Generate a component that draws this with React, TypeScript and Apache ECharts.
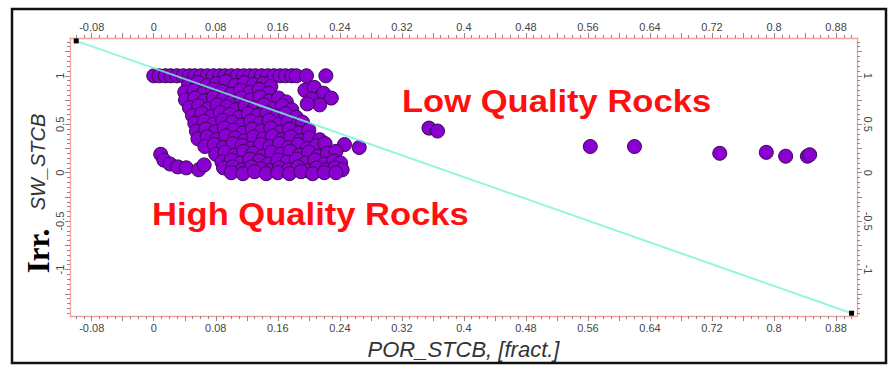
import React, { useEffect, useRef } from "react";
import * as echarts from "echarts";

// ---- Data ----
const xTickLabels = [-0.08, 0, 0.08, 0.16, 0.24, 0.32, 0.4, 0.48, 0.56, 0.64, 0.72, 0.8, 0.88];
const yTickLabels = [-1, -0.5, 0, 0.5, 1];

// SW capped at 1 (top band)
const topRow: number[][] = [
  [0, 1], [0.007, 1], [0.015, 1], [0.022, 1], [0.03, 1], [0.038, 1], [0.046, 1], [0.053, 1],
  [0.061, 1], [0.069, 1], [0.077, 1], [0.085, 1], [0.092, 1], [0.1, 1], [0.108, 1], [0.116, 1],
  [0.124, 1], [0.131, 1], [0.139, 1], [0.147, 1], [0.155, 1], [0.163, 1], [0.17, 1], [0.178, 1],
  [0.184, 1], [0.197, 1], [0.222, 1],
];

// main dense cloud
const mainCloud: number[][] = [
  [0.045, 0.91], [0.057, 0.93], [0.069, 0.9], [0.081, 0.92], [0.093, 0.94], [0.105, 0.9], [0.117, 0.93], [0.129, 0.91], [0.141, 0.92], [0.151, 0.89],
  [0.04, 0.83], [0.052, 0.85], [0.064, 0.82], [0.076, 0.86], [0.088, 0.84], [0.1, 0.81], [0.112, 0.85], [0.124, 0.83], [0.136, 0.86], [0.148, 0.82],
  [0.195, 0.85], [0.207, 0.88], [0.219, 0.82], [0.229, 0.77], [0.204, 0.76], [0.214, 0.7], [0.198, 0.71],
  [0.041, 0.75], [0.053, 0.77], [0.065, 0.74], [0.077, 0.78], [0.089, 0.76], [0.101, 0.73], [0.113, 0.77], [0.125, 0.75], [0.137, 0.78], [0.149, 0.74], [0.161, 0.77], [0.171, 0.73],
  [0.046, 0.67], [0.058, 0.69], [0.07, 0.66], [0.082, 0.7], [0.094, 0.68], [0.106, 0.65], [0.118, 0.69], [0.13, 0.67], [0.142, 0.7], [0.154, 0.66], [0.166, 0.69], [0.178, 0.65],
  [0.05, 0.59], [0.062, 0.61], [0.074, 0.58], [0.086, 0.62], [0.098, 0.6], [0.11, 0.57], [0.122, 0.61], [0.134, 0.59], [0.146, 0.62], [0.158, 0.58], [0.17, 0.61], [0.184, 0.57],
  [0.053, 0.51], [0.065, 0.53], [0.077, 0.5], [0.089, 0.54], [0.101, 0.52], [0.113, 0.49], [0.125, 0.53], [0.137, 0.51], [0.149, 0.54], [0.161, 0.5], [0.173, 0.53], [0.185, 0.49], [0.192, 0.52],
  [0.055, 0.43], [0.067, 0.45], [0.079, 0.42], [0.091, 0.46], [0.103, 0.44], [0.115, 0.41], [0.127, 0.45], [0.139, 0.43], [0.151, 0.46], [0.163, 0.42], [0.175, 0.45], [0.187, 0.41], [0.2, 0.44],
  [0.057, 0.35], [0.069, 0.37], [0.081, 0.34], [0.093, 0.38], [0.105, 0.36], [0.117, 0.33], [0.129, 0.37], [0.141, 0.35], [0.153, 0.38], [0.165, 0.34], [0.177, 0.37], [0.189, 0.33], [0.201, 0.36], [0.214, 0.34],
  [0.066, 0.27], [0.078, 0.29], [0.09, 0.26], [0.102, 0.3], [0.114, 0.28], [0.126, 0.25], [0.138, 0.29], [0.15, 0.27], [0.162, 0.3], [0.174, 0.26], [0.186, 0.29], [0.198, 0.25], [0.21, 0.28], [0.221, 0.3], [0.246, 0.29], [0.265, 0.26],
  [0.08, 0.19], [0.092, 0.21], [0.104, 0.18], [0.116, 0.22], [0.128, 0.2], [0.14, 0.17], [0.152, 0.21], [0.164, 0.19], [0.176, 0.22], [0.188, 0.18], [0.2, 0.21], [0.212, 0.17], [0.224, 0.2], [0.235, 0.22],
  [0.088, 0.11], [0.1, 0.13], [0.112, 0.1], [0.124, 0.14], [0.136, 0.12], [0.148, 0.09], [0.16, 0.13], [0.172, 0.11], [0.184, 0.14], [0.196, 0.1], [0.208, 0.13], [0.22, 0.09], [0.232, 0.12], [0.241, 0.1],
  [0.09, 0.05], [0.102, 0.06], [0.114, 0.03], [0.126, 0.06], [0.138, 0.04], [0.15, 0.02], [0.162, 0.05], [0.174, 0.03], [0.186, 0.06], [0.198, 0.02], [0.21, 0.05], [0.222, 0.03], [0.234, 0.05], [0.243, 0.03],
  [0.1, 0.0], [0.115, -0.01], [0.13, 0.01], [0.145, -0.01], [0.16, 0.0], [0.175, -0.01], [0.19, 0.01], [0.205, -0.01], [0.22, 0.0], [0.235, 0.0],
];

// small group at low porosity / low SW
const lowLeft: number[][] = [
  [0.009, 0.19], [0.013, 0.13], [0.021, 0.09], [0.031, 0.06], [0.042, 0.05], [0.058, 0.03], [0.065, 0.08],
];

// isolated high porosity points
const outliers: number[][] = [
  [0.355, 0.46], [0.366, 0.43], [0.563, 0.27], [0.62, 0.27], [0.73, 0.2], [0.79, 0.21], [0.815, 0.17], [0.843, 0.17], [0.846, 0.185],
];

// cut-off line endpoints
const cutLine: number[][] = [
  [-0.1, 1.36],
  [0.9, -1.45],
];

const X_MIN = -0.108;
const X_MAX = 0.907;
const Y_MIN = -1.48;
const Y_MAX = 1.39;

function steps(from: number, to: number, step: number): number[] {
  const out: number[] = [];
  const n = Math.round((to - from) / step);
  for (let i = 0; i <= n; i++) out.push(Math.round((from + i * step) * 1000) / 1000);
  return out;
}

const fmt = (v: number) => String(Math.round(v * 100) / 100);

export default function App() {
  const ref = useRef<HTMLDivElement>(null);

  useEffect(() => {
    if (!ref.current) return;
    const chart = echarts.init(ref.current, null, { renderer: "svg" });

    const lineColor = "#f4a3a3";
    const tickColor = "#8a8a8a";
    const labelStyle = { color: "#444", fontSize: 11, fontFamily: "Liberation Sans" };

    const xMajor = steps(-0.08, 0.88, 0.04);
    const xMinor = steps(-0.1, 0.9, 0.01);
    const yMajor = steps(-1.25, 1.25, 0.25);
    const yMinor = steps(-1.45, 1.35, 0.05);

    const xAx = (position: string, main: boolean, extra: any = {}) => ({
      type: "value",
      position,
      min: X_MIN,
      max: X_MAX,
      splitLine: { show: false },
      axisLine: { show: main, onZero: false, lineStyle: { color: lineColor, width: 1.3 } },
      axisTick: {
        show: true,
        customValues: main ? xMajor : xMinor,
        length: main ? 5 : 3,
        lineStyle: { color: tickColor, width: 1 },
      },
      axisLabel: main
        ? { show: true, customValues: xTickLabels, formatter: fmt, margin: 6, ...labelStyle }
        : { show: false },
      ...extra,
    });

    const yAx = (position: string, main: boolean, rotate: number) => ({
      type: "value",
      position,
      min: Y_MIN,
      max: Y_MAX,
      splitLine: { show: false },
      axisLine: { show: main, onZero: false, lineStyle: { color: lineColor, width: 1.3 } },
      axisTick: {
        show: true,
        customValues: main ? yMajor : yMinor,
        length: main ? 5 : 3,
        lineStyle: { color: tickColor, width: 1 },
      },
      axisLabel: main
        ? { show: true, customValues: yTickLabels, formatter: fmt, rotate, margin: 5, ...labelStyle }
        : { show: false },
    });

    const pointStyle = {
      color: "#8a00d0",
      borderColor: "#35084f",
      borderWidth: 1,
      opacity: 1,
    };

    chart.setOption({
      animation: false,
      backgroundColor: "#ffffff",
      grid: { left: 70, right: 31, top: 38, bottom: 48, containLabel: false },
      xAxis: [
        xAx("bottom", true, {
          name: "POR_STCB, [fract.]",
          nameLocation: "middle",
          nameGap: 21,
          nameTextStyle: { fontSize: 22, fontStyle: "italic", fontFamily: "Liberation Sans", color: "#333" },
        }),
        xAx("bottom", false),
        xAx("top", true),
        xAx("top", false),
      ],
      yAxis: [yAx("left", true, 90), yAx("left", false, 90), yAx("right", true, -90), yAx("right", false, -90)],
      series: [
        {
          type: "scatter",
          name: "Samples",
          xAxisIndex: 0,
          yAxisIndex: 0,
          symbolSize: 14,
          itemStyle: pointStyle,
          data: [...topRow, ...mainCloud, ...lowLeft, ...outliers],
          z: 2,
        },
        {
          type: "line",
          name: "Cut-off",
          xAxisIndex: 0,
          yAxisIndex: 0,
          data: cutLine,
          symbol: "rect",
          symbolSize: 5,
          showSymbol: true,
          itemStyle: { color: "#000", borderWidth: 0 },
          lineStyle: { color: "#74f5d6", width: 2, opacity: 0.8 },
          z: 3,
        },
      ],
      graphic: [
        {
          type: "rect",
          shape: { x: 12, y: 9, width: 874, height: 354 },
          style: { fill: "none", stroke: "#111", lineWidth: 2.5 },
          z: 0,
          silent: true,
        },
        {
          type: "text",
          x: 402,
          y: 101,
          scaleX: 1.08,
          style: {
            text: "Low Quality Rocks",
            fill: "#ff1010",
            font: "bold 32px 'Liberation Sans'",
            textAlign: "left",
            textVerticalAlign: "middle",
          },
          z: 10,
        },
        {
          type: "text",
          x: 152,
          y: 214,
          scaleX: 1.08,
          style: {
            text: "High Quality Rocks",
            fill: "#ff1010",
            font: "bold 32px 'Liberation Sans'",
            textAlign: "left",
            textVerticalAlign: "middle",
          },
          z: 10,
        },
        {
          type: "text",
          x: 38,
          y: 251,
          rotation: Math.PI / 2,
          style: {
            text: "Irr.",
            fill: "#000",
            font: "bold 31px 'Liberation Serif'",
            textAlign: "center",
            textVerticalAlign: "middle",
          },
          z: 10,
        },
        {
          type: "text",
          x: 38,
          y: 162,
          rotation: Math.PI / 2,
          style: {
            text: "SW_STCB",
            fill: "#333",
            font: "italic 20px 'Liberation Sans'",
            textAlign: "center",
            textVerticalAlign: "middle",
          },
          z: 10,
        },
      ],
    });

    return () => chart.dispose();
  }, []);

  return (
    <div
      ref={ref}
      style={{ position: "absolute", left: 0, top: 0, width: 888, height: 365, background: "#fff" }}
    />
  );
}
